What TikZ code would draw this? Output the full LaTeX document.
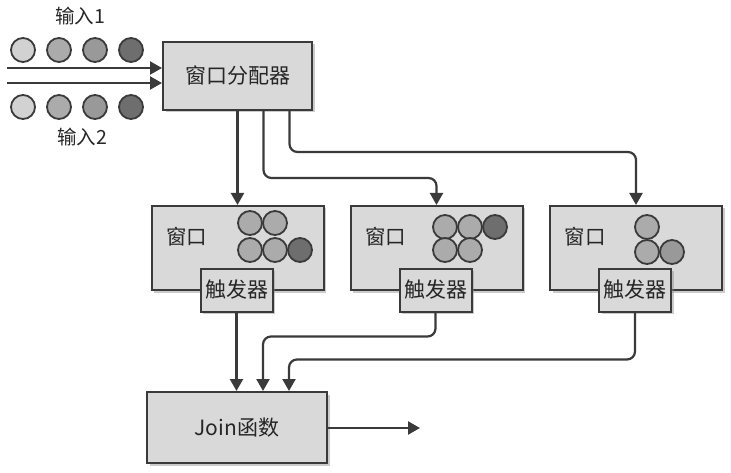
\documentclass[tikz,border=0pt]{standalone}
\usepackage{fontspec}
\setmainfont{Noto Sans CJK SC}
\usetikzlibrary{arrows.meta,shadows}

\definecolor{lineC}{HTML}{3A3A3A}
\definecolor{boxC}{HTML}{D9D9D9}
\definecolor{ballA}{HTML}{D2D2D2}
\definecolor{ballB}{HTML}{ABABAB}
\definecolor{ballC}{HTML}{999999}
\definecolor{ballD}{HTML}{6E6E6E}

\begin{document}
\begin{tikzpicture}[x=1pt, y=-1pt,
    box/.style={draw=lineC, line width=2pt, fill=boxC, text=black!85,
      font=\fontsize{21}{24}\selectfont,
      drop shadow={shadow xshift=2.5pt, shadow yshift=-2.5pt, fill=black!45, opacity=0.45}},
    ball/.style={circle, draw=lineC, line width=1.8pt, minimum size=24pt, inner sep=0pt},
    flow/.style={draw=lineC, line width=2.2pt, rounded corners=8pt,
      -{Triangle[length=12pt, width=13pt]}},
    lbl/.style={text=black!85, font=\fontsize{19.5}{22}\selectfont}]
    \useasboundingbox (0,0) rectangle (731,473);

    % Inputs
    \node[lbl] (lab1) at (80,16) {输入1};
    \node[lbl] (lab2) at (82,137) {输入2};
    \foreach \i/\x/\c in {1/23/ballA, 2/59/ballB, 3/95/ballC, 4/131/ballD} {
        \node[ball, fill=\c] (inA\i) at (\x,50) {};
        \node[ball, fill=\c] (inB\i) at (\x,107) {};
    }

    % Assigner
    \node[box, minimum width=149pt, minimum height=68pt] (dist) at (237.5,76) {窗口分配器};
    \coordinate (src1) at (7,68);
    \coordinate (src2) at (7,83);
    \draw[flow] (src1) -- (src1 -| dist.west);
    \draw[flow] (src2) -- (src2 -| dist.west);

    % Windows
    \foreach \n/\x in {1/237.5, 2/436.5, 3/636} {
        \node[box, minimum width=172pt, minimum height=84pt] (win\n) at (\x,248) {};
        \node[font=\fontsize{20.5}{24}\selectfont, text=black!85] (wlab\n) at (\x-51,237) {窗口};
        \node[box, minimum width=72pt, minimum height=43pt, inner sep=1pt] (trig\n) at (\x-1,290) {触发器};
    }

    % Window contents
    \foreach \i/\x/\y/\c in {1/250/223/ballB, 2/275/223/ballB, 3/250/250/ballB, 4/275/250/ballB, 5/300/250/ballD} {
        \node[ball, fill=\c] (wa\i) at (\x,\y) {};
    }
    \foreach \i/\x/\y/\c in {1/445/227/ballB, 2/470/227/ballB, 3/495/227/ballD, 4/445/250/ballB, 5/470/250/ballB} {
        \node[ball, fill=\c] (wb\i) at (\x,\y) {};
    }
    \foreach \i/\x/\y/\c in {1/647/227/ballB, 2/647/252/ballB, 3/672/252/ballC} {
        \node[ball, fill=\c] (wc\i) at (\x,\y) {};
    }

    % Assigner to windows
    \draw[flow] (dist.south) -- (win1.north);
    \draw[flow] ([xshift=26pt]dist.south) |- ([yshift=27pt]win2.north) -- (win2.north);
    \draw[flow] ([xshift=52pt]dist.south) |- ([yshift=53pt]win3.north) -- (win3.north);

    % Join
    \node[box, minimum width=180pt, minimum height=71pt] (join) at (237,427.5) {Join函数};
    \draw[flow] (trig1.south) -- (trig1.south |- join.north);
    \draw[flow] (trig2.south) -- ++(0,24) -| ([xshift=26pt]join.north);
    \draw[flow] (trig3.south) -- ++(0,47) -| ([xshift=52pt]join.north);
    \coordinate (out) at (420,428);
    \draw[flow] (join.east |- out) -- (out);
\end{tikzpicture}
\end{document}
